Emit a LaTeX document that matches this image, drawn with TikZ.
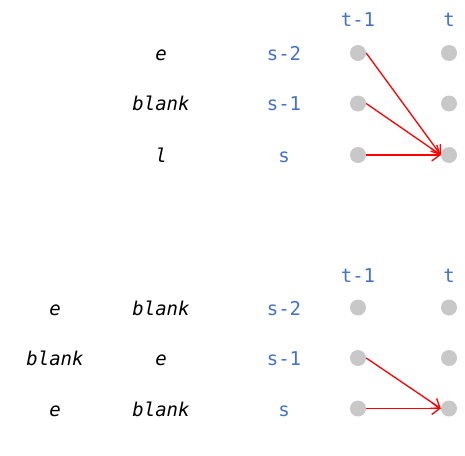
\documentclass[tikz,border=0pt]{standalone}
\usepackage{fontspec}
\setmonofont{DejaVu Sans Mono}
\usetikzlibrary{arrows.meta}
\definecolor{idxblue}{HTML}{4472C4}
\definecolor{dotgray}{HTML}{C8C8C8}
\begin{document}
\begin{tikzpicture}[x=1pt,y=-1pt,
	dot/.style={circle,fill=dotgray,inner sep=0pt,minimum size=16pt},
	sym/.style={anchor=base,inner sep=0pt,font=\fontsize{19}{22}\selectfont\ttfamily\itshape},
	idx/.style={anchor=base,inner sep=0pt,text=idxblue,font=\fontsize{19}{22}\selectfont\ttfamily},
	trans/.style={red,line width=1.3pt,-{Straight Barb[length=8pt,width=12pt]}}]
				\useasboundingbox (0,0) rectangle (465,455);
				% upper lattice
				\node[idx] (tu1) at (358,26) {t-1};
				\node[idx] (tu) at (449,26) {t};
				\node[sym] (cu1) at (161,60) {e};
				\node[sym] (cu2) at (161,110.5) {blank};
				\node[sym] (cu3) at (161,162) {l};
				\node[idx] (su1) at (284,60) {s-2};
				\node[idx] (su2) at (284,110.5) {s-1};
				\node[idx] (su3) at (284,162) {s};
				\node[dot] (ua1) at (358,53) {};
				\node[dot] (ua2) at (358,103.5) {};
				\node[dot] (ua3) at (358,155) {};
				\node[dot] (ub1) at (449,53) {};
				\node[dot] (ub2) at (449,103.5) {};
				\node[dot] (ub3) at (449,155) {};
				\draw[trans] (ua1.east)--(ub3.west);
				\draw[trans] (ua2.east)--(ub3.west);
				\draw[trans] (ua3.east)--(ub3.west);
				
				% lower lattice
				\node[idx] (tl1) at (358,282) {t-1};
				\node[idx] (tl) at (449,282) {t};
				\node[sym] (dl1) at (55,315) {e};
				\node[sym] (dl2) at (55,365.5) {blank};
				\node[sym] (dl3) at (55,416) {e};
				\node[sym] (cl1) at (161,315) {blank};
				\node[sym] (cl2) at (161,365.5) {e};
				\node[sym] (cl3) at (161,416) {blank};
				\node[idx] (sl1) at (284,315) {s-2};
				\node[idx] (sl2) at (284,365.5) {s-1};
				\node[idx] (sl3) at (284,416) {s};
				\node[dot] (la1) at (358,307.5) {};
				\node[dot] (la2) at (358,358) {};
				\node[dot] (la3) at (358,408.5) {};
				\node[dot] (lb1) at (449,307.5) {};
				\node[dot] (lb2) at (449,358) {};
				\node[dot] (lb3) at (449,408.5) {};
				\draw[trans] (la2.east)--(lb3.west);
				\draw[trans] (la3.east)--(lb3.west);
				
\end{tikzpicture}
\end{document}
